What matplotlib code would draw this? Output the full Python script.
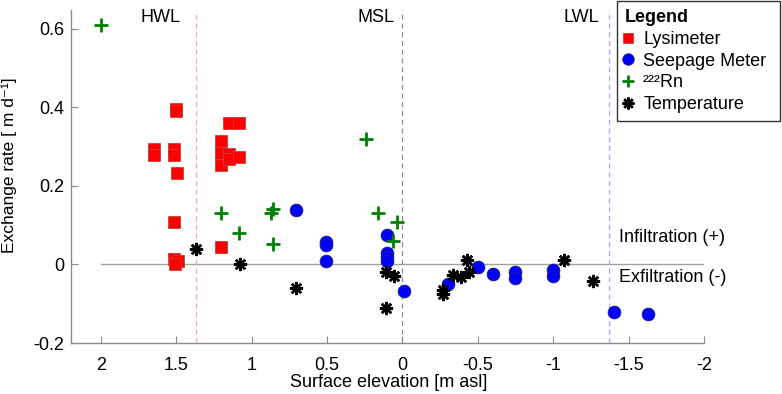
import matplotlib
matplotlib.use("Agg")
import matplotlib.pyplot as plt

plt.rcParams['font.family'] = ['Liberation Sans', 'DejaVu Sans']
plt.rcParams['axes.unicode_minus'] = False

# ---- data ----
lys_x = [1.50, 1.50, 1.645, 1.645, 1.513, 1.513, 1.497, 1.20, 1.20, 1.20, 1.15, 1.15, 1.15,
         1.082, 1.082, 1.513, 1.513, 1.49, 1.51, 1.20]
lys_y = [0.397, 0.390, 0.293, 0.278, 0.293, 0.278, 0.234, 0.314, 0.283, 0.253, 0.359, 0.281, 0.268,
         0.359, 0.273, 0.107, 0.014, 0.010, 0.002, 0.044]

seep_x = [0.702, 0.503, 0.503, 0.503, 0.102, 0.102, 0.102, 0.102, -0.009, -0.30, -0.501,
          -0.600, -0.750, -0.750, -0.998, -0.998, -1.401, -1.631]
seep_y = [0.139, 0.058, 0.050, 0.009, 0.076, 0.030, 0.019, 0.008, -0.067, -0.051, -0.007,
          -0.024, -0.018, -0.034, -0.013, -0.030, -0.122, -0.127]

rn_x = [2.0, 1.203, 1.082, 0.857, 0.868, 0.857, 0.243, 0.161, 0.033, 0.062]
rn_y = [0.610, 0.130, 0.080, 0.141, 0.131, 0.051, 0.320, 0.130, 0.109, 0.059]

temp_x = [1.371, 1.077, 0.702, 0.106, 0.056, 0.106, -0.269, -0.269, -0.335, -0.391,
          -0.441, -0.430, -1.070, -1.262]
temp_y = [0.040, 0.000, -0.060, -0.019, -0.029, -0.110, -0.065, -0.075, -0.028, -0.032,
          -0.018, 0.012, 0.012, -0.041]

xticks = [2, 1.5, 1, 0.5, 0, -0.5, -1, -1.5, -2]
xtick_labels = ['2', '1.5', '1', '0.5', '0', '-0.5', '-1', '-1.5', '-2']
yticks = [-0.2, 0, 0.2, 0.4, 0.6]
ytick_labels = ['-0.2', '0', '0.2', '0.4', '0.6']

levels = [1.371, 0.0, -1.368]
level_names = ['HWL', 'MSL', 'LWL']
level_colors = ['#f4a8a8', '#8c8c8c', '#a8a8e8']

series_names = ['Lysimeter', 'Seepage Meter', '²²²Rn', 'Temperature']

# ---- figure ----
fig = plt.figure(figsize=(7.82, 3.94), dpi=100)
ax = fig.add_axes([71/782, 1-343/394, (704-71)/782, (343-10)/394])

FS = 13
ax.set_xlim(2.197, -2.0)
ax.set_ylim(-0.2, 0.648)

for s in ['top', 'right']:
    ax.spines[s].set_visible(False)
for s in ['left', 'bottom']:
    ax.spines[s].set_color('#8c8c8c')
    ax.spines[s].set_linewidth(1.0)

ax.set_xticks(xticks)
ax.set_xticklabels(xtick_labels)
ax.set_yticks(yticks)
ax.set_yticklabels(ytick_labels)
ax.tick_params(direction='in', length=5, color='#8c8c8c', labelsize=FS, labelcolor='black')
ax.tick_params(axis='x', pad=10)
ax.tick_params(axis='y', pad=5)

# zero line
ax.plot([2, -2], [0, 0], color='#a0a0a0', lw=1.0, zorder=1)

# level lines
for xv, nm, c in zip(levels, level_names, level_colors):
    ax.axvline(xv, color=c, lw=0.9, ls=(0, (4, 3)), zorder=1)
text_pos = [1.468, 0.051, -1.302]
for tx, nm in zip(text_pos, level_names):
    ax.text(tx, 0.630, nm, ha='right', va='center', fontsize=FS)

ax.text(-1.434, 0.069, 'Infiltration (+)', ha='left', va='center', fontsize=FS)
ax.text(-1.434, -0.034, 'Exfiltration (-)', ha='left', va='center', fontsize=FS)

h1, = ax.plot(lys_x, lys_y, ls='none', marker='s', ms=8.6, mfc='#ff0000', mec='#c04040', mew=0.6,
              label=series_names[0], zorder=3)
h2, = ax.plot(seep_x, seep_y, ls='none', marker='o', ms=9.2, mfc='#0000ff', mec='#202080', mew=0.6,
              label=series_names[1], zorder=3)
h3, = ax.plot(rn_x, rn_y, ls='none', marker='+', ms=9.5, mec='#008000', mew=2.0,
              label=series_names[2], zorder=4)
h4, = ax.plot(temp_x, temp_y, ls='none', marker=(8, 2, 0), ms=9.5, mec='black', mfc='black', mew=1.8,
              label=series_names[3], zorder=4)

ax.set_xlabel('Surface elevation [m asl]', fontsize=FS)
ax.xaxis.label.set_va('center')
ax.xaxis.set_label_coords(0.502, -0.119)
ax.set_ylabel('Exchange rate [ m d⁻¹]', fontsize=12.5)
ax.yaxis.set_label_coords(-0.085, 0.535)

leg = fig.legend(handles=[h1, h2, h3, h4], loc='upper left',
                 bbox_to_anchor=(617/782, 1 - 1/394, (780-617)/782, 0.0), mode='expand',
                 fontsize=FS,
                 title='Legend', title_fontproperties={'weight': 'bold', 'size': FS},
                 alignment='left', frameon=True, fancybox=False, edgecolor='black',
                 handlelength=0.3, handletextpad=0.7, labelspacing=0.26,
                 borderpad=0.45, borderaxespad=0.0, markerscale=0.9)
leg.get_frame().set_linewidth(1.0)

fig.savefig('out.png', dpi=100)
